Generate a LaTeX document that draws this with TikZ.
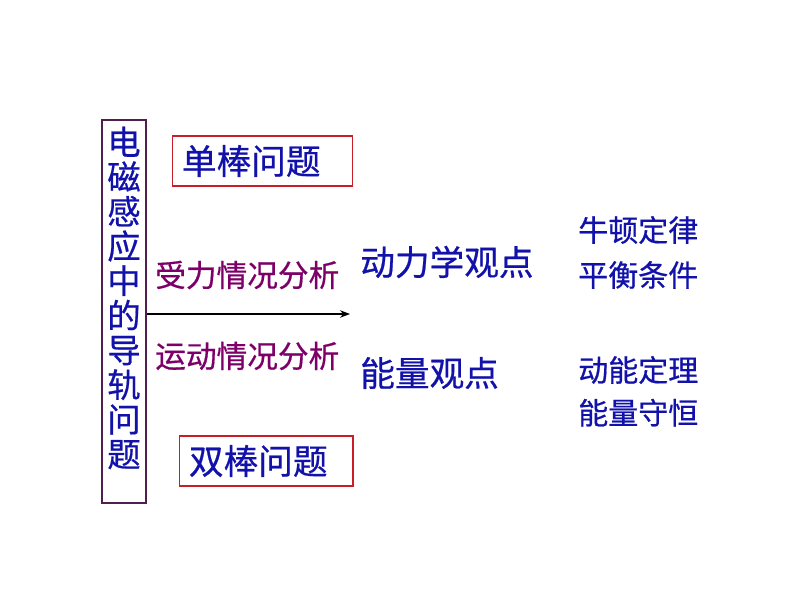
\documentclass[tikz,border=0pt]{standalone}
\usepackage{fontspec}
\setmainfont[FakeBold=0.6,AutoFakeBold=0.6]{Noto Sans CJK SC}
\usetikzlibrary{arrows.meta,positioning}
\definecolor{titleblue}{RGB}{18,18,170}
\definecolor{plum}{RGB}{125,0,105}
\definecolor{boxred}{RGB}{200,30,40}
\definecolor{framepurple}{RGB}{80,30,80}

\begin{document}
\begin{tikzpicture}[x=0.75pt,y=-0.75pt,>=Stealth,
  big/.style={text=titleblue,font=\fontsize{26}{26}\selectfont\bfseries,inner sep=0pt},
  small/.style={text=titleblue,font=\fontsize{22.5}{24}\selectfont\bfseries,inner sep=0pt},
  way/.style={text=plum,font=\fontsize{23}{24}\selectfont\bfseries,inner sep=0pt},
  redbox/.style={draw=boxred,line width=0.9pt,inner xsep=7pt,inner ysep=0pt,
    minimum height=37.5pt,align=left}]
\useasboundingbox (0,0) rectangle (794,596);
\node[draw=framepurple,line width=1.2pt,minimum width=33pt,minimum height=287pt,
  inner sep=0pt] (frame) at (124,311.5) {};
\node[big,align=center,font=\fontsize{25}{26}\selectfont\bfseries] (topic) at (124,298)
  {电\\磁\\感\\应\\中\\的\\导\\轨\\问\\题};
\node[redbox,anchor=west,text width=121pt] (single) at (172,161) {\textcolor{titleblue}{\fontsize{26}{26}\selectfont\bfseries 单棒问题}};
\node[redbox,anchor=west,text width=116pt] (double) at (179,461) {\textcolor{titleblue}{\fontsize{26}{26}\selectfont\bfseries 双棒问题}};
\node[way,anchor=west] (force) at (155,275) {受力情况分析};
\node[way,anchor=west] (motion) at (155,356) {运动情况分析};
\coordinate (tip) at (350,314);
\draw[->,line width=1pt] (frame.east |- tip) -- (tip);
\node[big,anchor=west] (dyn) at (360,262) {动力学观点};
\node[big,anchor=west] (energy) at (360,373) {能量观点};
\node[small,anchor=west] (newton) at (578,230) {牛顿定律};
\node[small,below=33.75pt of newton.west,anchor=west] (balance) {平衡条件};
\node[small,anchor=west] (kinetic) at (578,370) {动能定理};
\node[small,below=32pt of kinetic.west,anchor=west] (conserve) {能量守恒};
\end{tikzpicture}
\end{document}
